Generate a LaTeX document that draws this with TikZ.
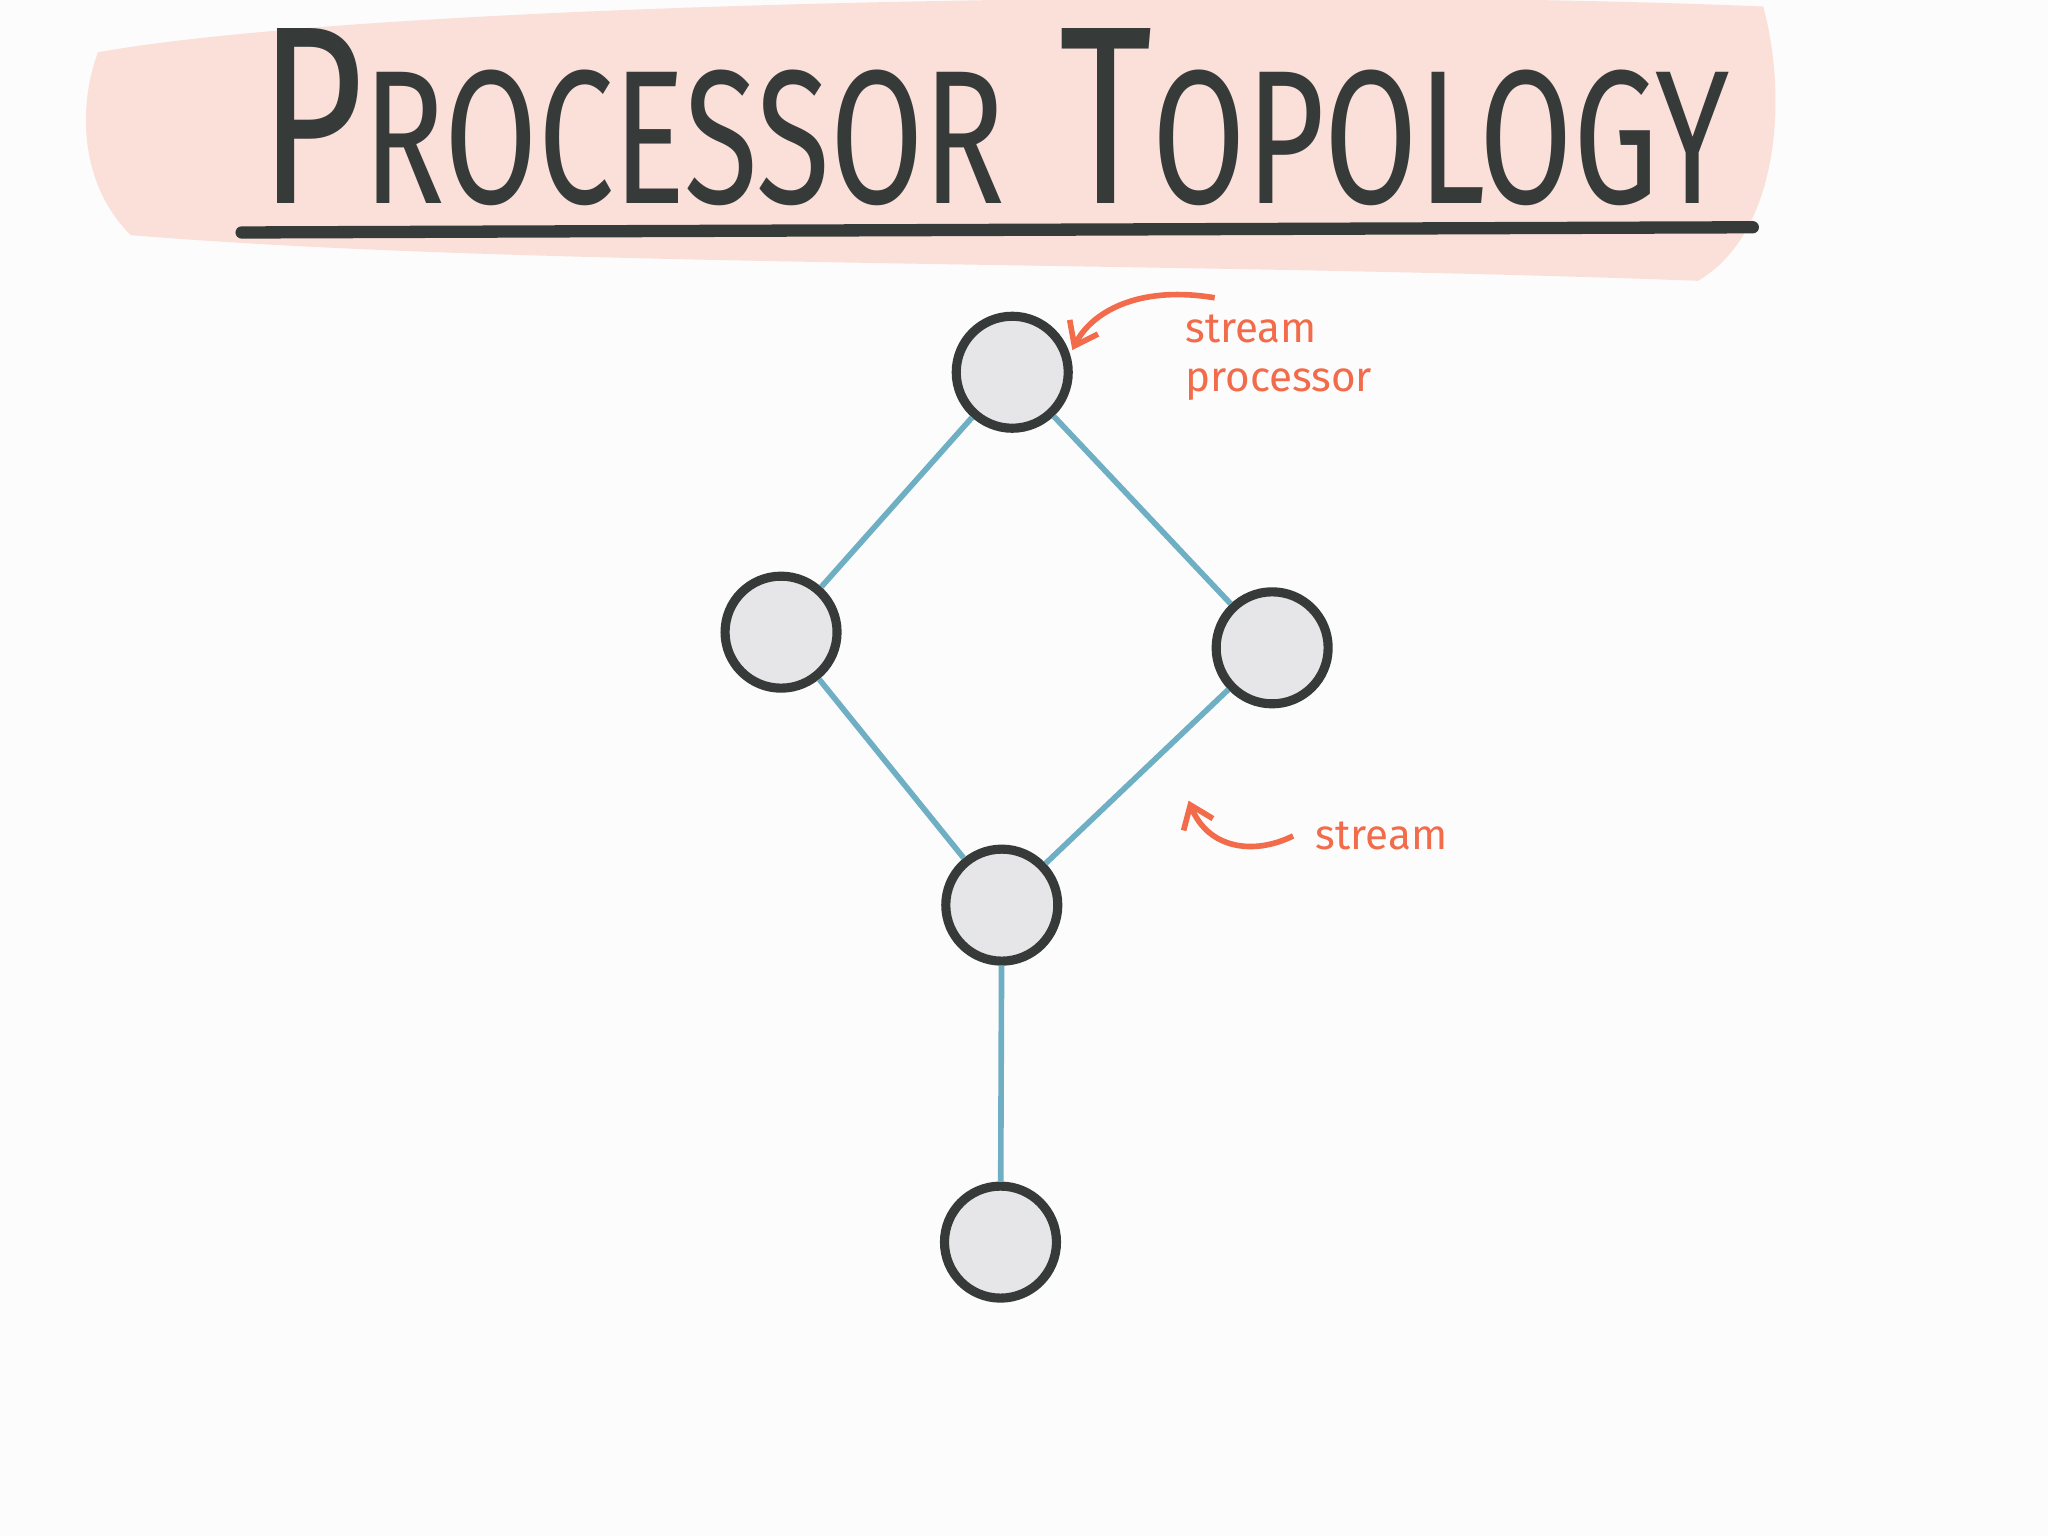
\documentclass[tikz,border=0pt]{standalone}
\usepackage{fontspec}
\setmainfont{Fira Sans}
\usetikzlibrary{arrows.meta}
\definecolor{ink}{HTML}{363B3A}
\definecolor{edge}{HTML}{6FAFC4}
\definecolor{note}{HTML}{F26B4A}
\definecolor{wash}{HTML}{F9C9BE}
\definecolor{fillc}{HTML}{E6E6E8}
\begin{document}
\begin{tikzpicture}[x=0.01306cm,y=-0.01306cm,
  proc/.style={circle,draw=ink,line width=2.6pt,fill=fillc,minimum size=1.12cm,inner sep=0pt},
  strm/.style={draw=edge,line width=1.6pt},
  notearrow/.style={draw=note,line width=1.6pt,-{Straight Barb[length=6pt,width=9pt]}},
  notetext/.style={text=note,font=\large,align=left}]
\fill[white!98!gray] (0,0) rectangle (1568,1176);
\useasboundingbox (0,0) rectangle (1568,1176);
% pink wash
\fill[wash,opacity=0.55] (75,40) .. controls (300,0) and (1000,-10) .. (1350,5)
  .. controls (1370,80) and (1360,180) .. (1300,215)
  .. controls (900,200) and (400,205) .. (100,180)
  .. controls (60,140) and (60,80) .. cycle;
% title
\node[text=ink,anchor=south west,inner sep=0] (title) at (198,158)
  {\resizebox{14.7cm}{1.75cm}{\fontsize{48}{48}\selectfont P\fontsize{36}{36}\selectfont ROCESSOR\hspace{0.4em}\fontsize{48}{48}\selectfont T\fontsize{36}{36}\selectfont OPOLOGY}};
\coordinate (ul1) at (185,178); \coordinate (ul2) at (1342,174);
\draw[ink,line width=3.5pt,line cap=round] (ul1) -- (ul2);
% nodes
\node[proc] (top) at (775,285) {};
\node[proc] (left) at (598,484) {};
\node[proc] (right) at (974,496) {};
\node[proc] (mid) at (767,693) {};
\node[proc] (bot) at (766,951) {};
% streams
\draw[strm] (top) -- (left);
\draw[strm] (top) -- (right);
\draw[strm] (left) -- (mid);
\draw[strm] (right) -- (mid);
\draw[strm] (mid) -- (bot);
% annotations
\node[notetext,anchor=west] (sp) at (898,274) {stream\\processor};
\coordinate (a1s) at (930,228); \coordinate (a1e) at (821,268);
\draw[notearrow] (a1s) .. controls (870,218) and (835,240) .. (a1e);
\node[notetext,anchor=west] (st) at (998,640) {stream};
\coordinate (a2s) at (990,640); \coordinate (a2e) at (910,613);
\draw[notearrow] (a2s) .. controls (960,655) and (925,650) .. (a2e);
\end{tikzpicture}
\end{document}
